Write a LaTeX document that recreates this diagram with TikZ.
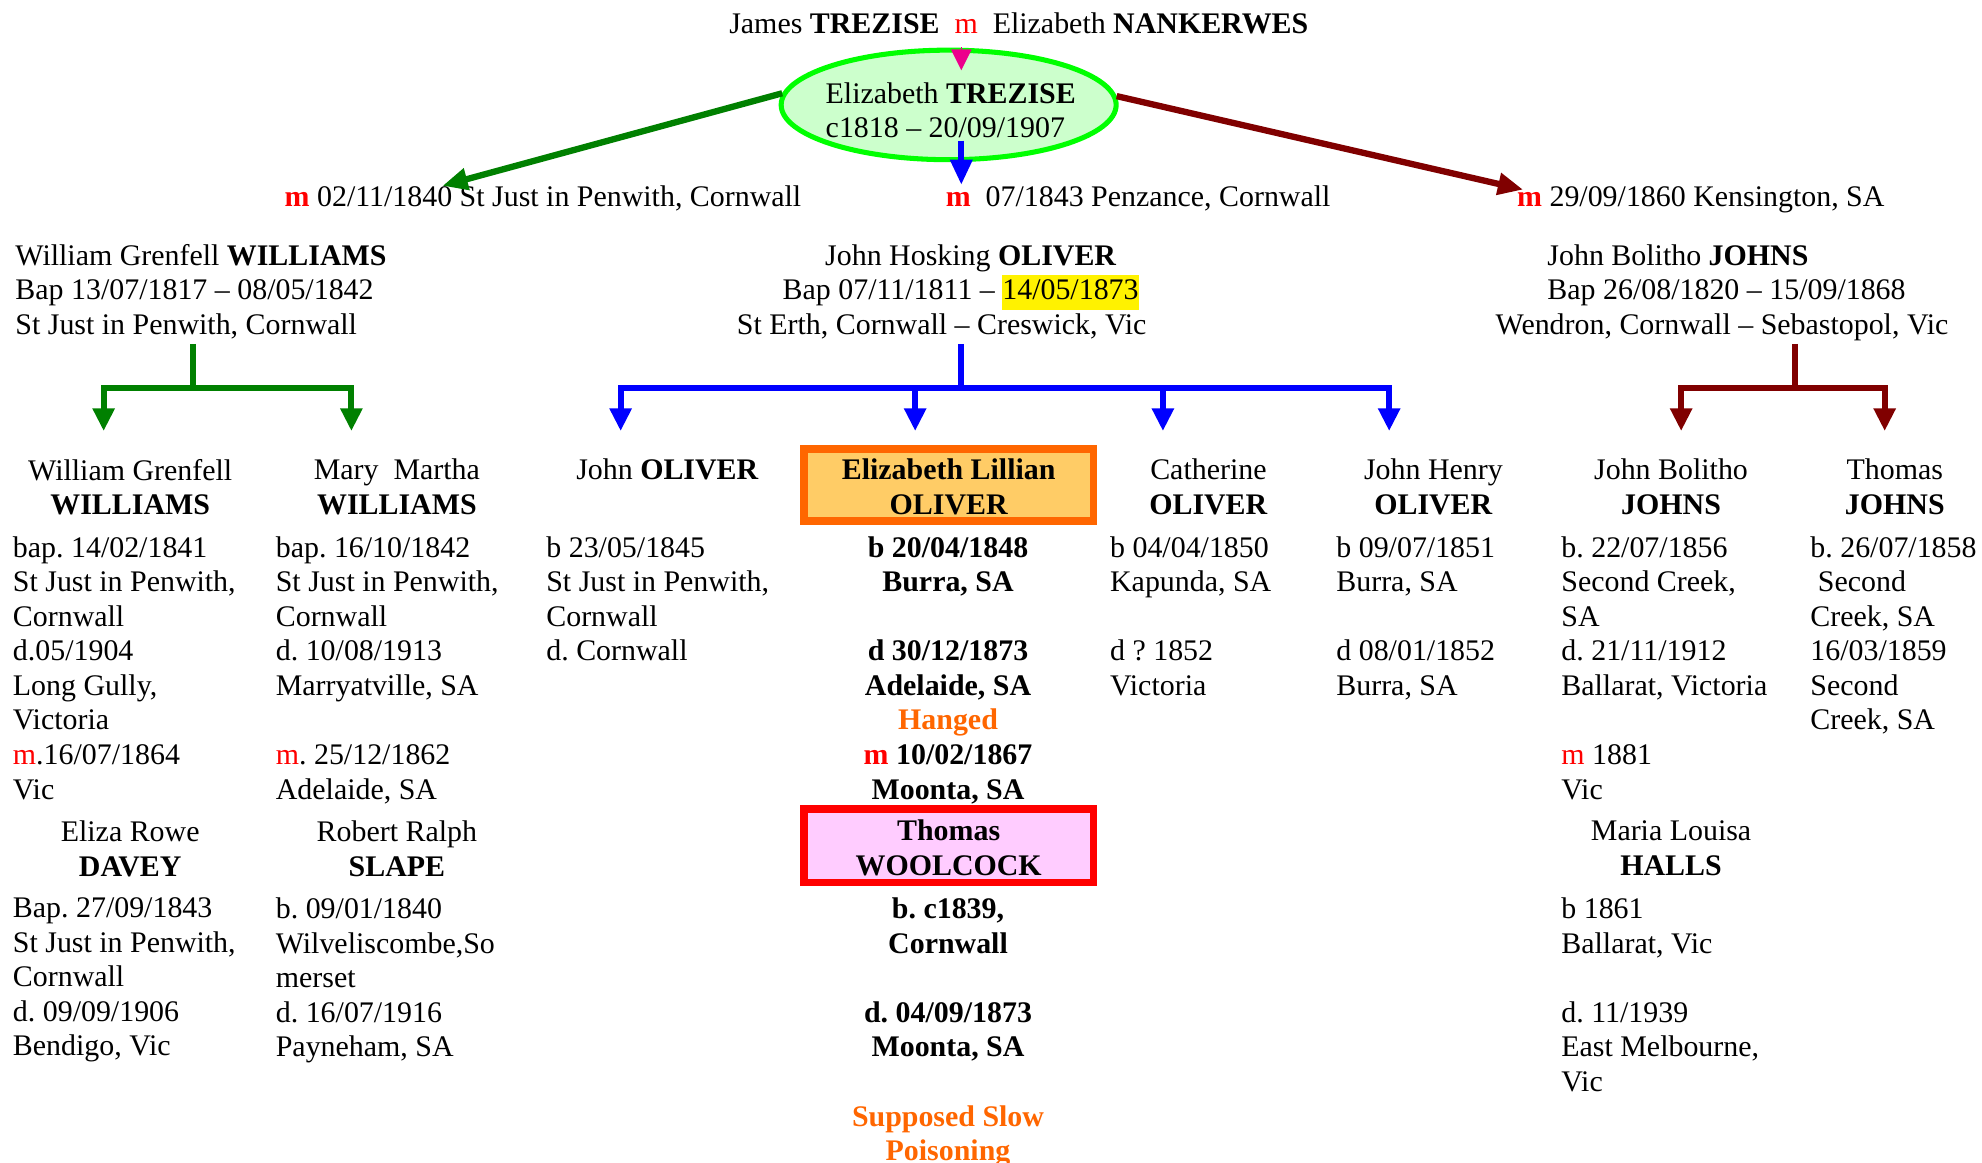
\documentclass[tikz,border=0pt]{standalone}
\usepackage{fontspec}
\setmainfont{Liberation Serif}
\usetikzlibrary{arrows.meta,shapes.geometric}
\definecolor{famgreen}{RGB}{0,128,0}
\definecolor{famblue}{RGB}{0,0,255}
\definecolor{famred}{RGB}{128,0,0}
\definecolor{ovalline}{RGB}{0,255,0}
\definecolor{ovalfill}{RGB}{204,255,204}
\definecolor{elizline}{RGB}{255,102,0}
\definecolor{elizfill}{RGB}{255,204,102}
\definecolor{tomline}{RGB}{255,0,0}
\definecolor{tomfill}{RGB}{255,204,255}
\definecolor{mred}{RGB}{255,0,0}
\definecolor{note}{RGB}{255,102,0}
\def\famfont{\fontsize{20.2}{23.35}\selectfont\frenchspacing}
\def\marr{\textcolor{mred}{m}}
\def\marrb{\textcolor{mred}{\textbf{m}}}
\def\boxstrut{\rule{0pt}{17pt}}
\setlength{\fboxsep}{0pt}
\tikzset{
  every node/.style={inner sep=0pt, font=\famfont},
  left text/.style={anchor=north west, align=left},
  mid text/.style={anchor=north, align=center},
  trezoval/.style={ellipse, draw=ovalline, fill=ovalfill, line width=0.12cm, minimum width=7.95cm, minimum height=2.6cm},
  elizbox/.style={draw=elizline, fill=elizfill, line width=0.18cm, minimum width=6.87cm, minimum height=1.71cm, align=center, font=\famfont\bfseries},
  tombox/.style={draw=tomline, fill=tomfill, line width=0.18cm, minimum width=6.87cm, minimum height=1.74cm, align=center, font=\famfont\bfseries},
  marrow/.style={draw=magenta, fill=magenta, line width=0pt, -{Triangle[length=0.5cm,width=0.5cm]}},
  grnarrow/.style={draw=famgreen, line width=0.15cm, -{Triangle[length=0.6cm,width=0.5cm]}},
  bluarrow/.style={draw=famblue, line width=0.15cm, -{Triangle[length=0.6cm,width=0.5cm]}},
  redarrow/.style={draw=famred, line width=0.15cm, -{Triangle[length=0.6cm,width=0.5cm]}},
  grnline/.style={draw=famgreen, line width=0.14cm},
  bluline/.style={draw=famblue, line width=0.14cm},
  redline/.style={draw=famred, line width=0.14cm},
  fork/.style={-{Triangle[length=0.54cm,width=0.5cm]}}
}

\begin{document}
\begin{tikzpicture}[x=0.03cm, y=-0.03cm]
	%%%%% START %%%%%
	\useasboundingbox (0,0) rectangle (1568,920);
	
	% parents and Elizabeth TREZISE
	\node[mid text] (parents) at (806,10) {James \textbf{TREZISE}\ \ \marr\ \ Elizabeth \textbf{NANKERWES}};
	\node[trezoval] (trez) at (750.5,83) {};
	\node[left text] (trezname) at (653,65) {Elizabeth \textbf{TREZISE}\\c1818 -- 20/09/1907};
	
	% marriages
	\node[left text] (m1) at (225,147) {\marrb\ 02/11/1840 St Just in Penwith, Cornwall};
	\node[left text] (m2) at (748,147) {\marrb\ \ 07/1843 Penzance, Cornwall};
	\node[left text] (m3) at (1200,147) {\marrb\ 29/09/1860 Kensington, SA};
	\coordinate (m1tip) at (350,147);
	\coordinate (m3tip) at (1205,150);
	
	\draw[marrow] ([shift={(10,0)}]trez.north) -- ++(0,18);
	\draw[grnarrow] (trez.176) -- (m1tip);
	\draw[bluarrow] ([shift={(10,-17)}]trez.south) -- ([shift={(10,18)}]trez.south);
	\draw[redarrow] (trez.3) -- (m3tip);
	
	% husbands
	\node[left text] (wgw) at (12,193) {William Grenfell \textbf{WILLIAMS}\\Bap 13/07/1817 -- 08/05/1842\\St Just in Penwith, Cornwall};
	\node[mid text] (jho) at (745,193) {\hspace*{1.38cm}John Hosking \textbf{OLIVER}\\\hspace*{0.9cm}Bap 07/11/1811 -- \colorbox{yellow}{\strut 14/05/1873}\\St Erth, Cornwall -- Creswick, Vic};
	\node[left text] (jbj) at (1183,193) {\hspace*{1.23cm}John Bolitho \textbf{JOHNS}\\\hspace*{1.23cm}Bap 26/08/1820 -- 15/09/1868\\Wendron, Cornwall -- Sebastopol, Vic};
	
	% forks
	\coordinate (wgwtop) at (153,272);
	\coordinate (wgwbar) at (153,307);
	\coordinate (to-c1) at (82,341);
	\coordinate (to-c2) at (278,341);
	\coordinate (jhotop) at (760,272);
	\coordinate (jhobar) at (760,307);
	\coordinate (to-c3) at (491,341);
	\coordinate (to-c4) at (724,341);
	\coordinate (to-c5) at (920,341);
	\coordinate (to-c6) at (1099,341);
	\coordinate (jbjtop) at (1420,272);
	\coordinate (jbjbar) at (1420,307);
	\coordinate (to-c7) at (1330,341);
	\coordinate (to-c8) at (1491,341);
	
	\draw[grnline] (wgwtop) -- (wgwbar);
	\draw[grnline, fork] (wgwbar) -| (to-c1);
	\draw[grnline, fork] (wgwbar) -| (to-c2);
	
	\draw[bluline] (jhotop) -- (jhobar);
	\draw[bluline, fork] (jhobar) -| (to-c3);
	\draw[bluline, fork] (jhobar) -| (to-c4);
	\draw[bluline, fork] (jhobar) -| (to-c5);
	\draw[bluline, fork] (jhobar) -| (to-c6);
	
	\draw[redline] (jbjtop) -- (jbjbar);
	\draw[redline, fork] (jbjbar) -| (to-c7);
	\draw[redline, fork] (jbjbar) -| (to-c8);
	
	% children
	\node[mid text] (c1) at (103,363) {William Grenfell\\\textbf{WILLIAMS}};
	\node[mid text] (c2) at (314,363) {Mary\ \ Martha\\\textbf{WILLIAMS}};
	\node[mid text] (c3) at (528,363) {John \textbf{OLIVER}};
	\node[elizbox] (c4) at (750.5,383.5) {\boxstrut Elizabeth Lillian\\OLIVER};
	\node[mid text] (c5) at (956,363) {Catherine\\\textbf{OLIVER}};
	\node[mid text] (c6) at (1134,363) {John Henry\\\textbf{OLIVER}};
	\node[mid text] (c7) at (1322,363) {John Bolitho\\\textbf{JOHNS}};
	\node[mid text] (c8) at (1499,363) {Thomas\\\textbf{JOHNS}};
	
	\node[left text] (d1) at (10,424) {bap. 14/02/1841\\St Just in Penwith,\\Cornwall\\d.05/1904\\Long Gully,\\Victoria\\\marr.16/07/1864\\Vic};
	\node[left text] (d2) at (218,424) {bap. 16/10/1842\\St Just in Penwith,\\Cornwall\\d. 10/08/1913\\Marryatville, SA\\\mbox{}\\\marr. 25/12/1862\\Adelaide, SA};
	\node[left text] (d3) at (432,424) {b 23/05/1845\\St Just in Penwith,\\Cornwall\\d. Cornwall};
	\node[mid text, font=\famfont\bfseries] (d4) at (750,424) {b 20/04/1848\\Burra, SA\\\mbox{}\\d 30/12/1873\\Adelaide, SA\\\textcolor{note}{Hanged}\\\textcolor{mred}{m} 10/02/1867\\Moonta, SA};
	\node[left text] (d5) at (878,424) {b 04/04/1850\\Kapunda, SA\\\mbox{}\\d ? 1852\\Victoria};
	\node[left text] (d6) at (1057,424) {b 09/07/1851\\Burra, SA\\\mbox{}\\d 08/01/1852\\Burra, SA};
	\node[left text] (d7) at (1235,424) {b. 22/07/1856\\Second Creek,\\SA\\d. 21/11/1912\\Ballarat, Victoria\\\mbox{}\\\marr\ 1881\\Vic};
	\node[left text] (d8) at (1432,424) {b. 26/07/1858\\\hspace*{0.25em}Second\\Creek, SA\\16/03/1859\\Second\\Creek, SA};
	
	% their spouses
	\node[mid text] (s1) at (103,649) {Eliza Rowe\\\textbf{DAVEY}};
	\node[mid text] (s2) at (314,649) {Robert Ralph\\\textbf{SLAPE}};
	\node[tombox] (s4) at (750.5,669) {\boxstrut Thomas\\WOOLCOCK};
	\node[mid text] (s7) at (1322,649) {Maria Louisa\\\textbf{HALLS}};
	
	\node[left text] (sd1) at (10,710) {Bap. 27/09/1843\\St Just in Penwith,\\Cornwall\\d. 09/09/1906\\Bendigo, Vic};
	\node[left text] (sd2) at (218,710) {b. 09/01/1840\\Wilveliscombe,So\\merset\\d. 16/07/1916\\Payneham, SA};
	\node[mid text, font=\famfont\bfseries] (sd4) at (750,710) {b. c1839,\\Cornwall\\\mbox{}\\d. 04/09/1873\\Moonta, SA\\\mbox{}\\\textcolor{note}{Supposed Slow}\\\textcolor{note}{Poisoning}};
	\node[left text] (sd7) at (1235,710) {b 1861\\Ballarat, Vic\\\mbox{}\\d. 11/1939\\East Melbourne,\\Vic};
	
	%%%%% END %%%%%
\end{tikzpicture}
\end{document}
